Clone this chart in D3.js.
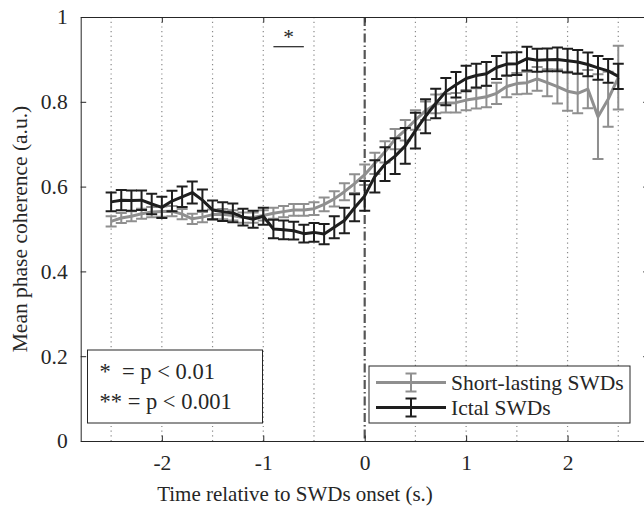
<!DOCTYPE html>
<html>

<head>
    <meta charset="utf-8">
    <title> Mean phase coherence </title>
    <script src="https://cdnjs.cloudflare.com/ajax/libs/d3/7.8.5/d3.min.js"></script>
    <style>
        html, body {
            margin: 0;
            padding: 0;
            background: white;
        }

        svg text {
            font-family: "Liberation Serif", "Times New Roman", serif;
            fill: #262626;
        }
    </style>
</head>

<body>
    <svg id="chart" width="644" height="511"></svg>

    <script>
        // time points (s.) relative to SWD onset
        var times = [-2.5, -2.4, -2.3, -2.2, -2.1, -2.0, -1.9, -1.8, -1.7, -1.6,
            -1.5, -1.4, -1.3, -1.2, -1.1, -1.0, -0.9, -0.8, -0.7, -0.6,
            -0.5, -0.4, -0.3, -0.2, -0.1, 0.0, 0.1, 0.2, 0.3, 0.4,
            0.5, 0.6, 0.7, 0.8, 0.9, 1.0, 1.1, 1.2, 1.3, 1.4,
            1.5, 1.6, 1.7, 1.8, 1.9, 2.0, 2.1, 2.2, 2.3, 2.4, 2.5];

        var shortMean = [0.518, 0.526, 0.530, 0.536, 0.540, 0.541, 0.542, 0.535, 0.524, 0.528,
            0.534, 0.535, 0.532, 0.527, 0.527, 0.532, 0.537, 0.541, 0.545, 0.545,
            0.548, 0.558, 0.571, 0.588, 0.607, 0.628, 0.655, 0.682, 0.712, 0.733,
            0.757, 0.779, 0.795, 0.797, 0.798, 0.804, 0.808, 0.812, 0.820, 0.836,
            0.843, 0.845, 0.854, 0.845, 0.836, 0.825, 0.820, 0.830, 0.765, 0.806, 0.857];

        var shortErr = [0.012, 0.012, 0.012, 0.012, 0.012, 0.012, 0.012, 0.012, 0.012, 0.012,
            0.012, 0.012, 0.012, 0.012, 0.012, 0.012, 0.013, 0.013, 0.014, 0.014,
            0.015, 0.016, 0.018, 0.020, 0.022, 0.024, 0.025, 0.025, 0.024, 0.024,
            0.023, 0.022, 0.022, 0.022, 0.023, 0.024, 0.024, 0.025, 0.025, 0.025,
            0.025, 0.026, 0.028, 0.032, 0.040, 0.046, 0.047, 0.045, 0.100, 0.065, 0.075];

        var ictalMean = [0.564, 0.568, 0.567, 0.568, 0.559, 0.551, 0.566, 0.576, 0.586, 0.568,
            0.545, 0.541, 0.538, 0.528, 0.523, 0.530, 0.500, 0.498, 0.496, 0.489,
            0.492, 0.488, 0.504, 0.520, 0.550, 0.578, 0.624, 0.653, 0.672, 0.696,
            0.732, 0.766, 0.796, 0.824, 0.840, 0.855, 0.862, 0.866, 0.881, 0.889,
            0.890, 0.902, 0.898, 0.899, 0.900, 0.897, 0.894, 0.888, 0.880, 0.873, 0.860];

        var ictalErr = [0.022, 0.024, 0.024, 0.023, 0.024, 0.025, 0.024, 0.024, 0.026, 0.025,
            0.022, 0.022, 0.022, 0.020, 0.020, 0.020, 0.022, 0.022, 0.021, 0.021,
            0.022, 0.024, 0.026, 0.030, 0.032, 0.035, 0.038, 0.040, 0.042, 0.042,
            0.042, 0.040, 0.035, 0.032, 0.030, 0.030, 0.028, 0.028, 0.027, 0.027,
            0.027, 0.028, 0.027, 0.027, 0.028, 0.028, 0.028, 0.028, 0.028, 0.028, 0.030];

        var xTicks = [-2, -1, 0, 1, 2];
        var xTickLabels = ["-2", "-1", "0", "1", "2"];
        var yTicks = [0, 0.2, 0.4, 0.6, 0.8, 1];
        var yTickLabels = ["0", "0.2", "0.4", "0.6", "0.8", "1"];
        var gridTimes = [-2.5, -2, -1.5, -1, -0.5, 0.5, 1, 1.5, 2, 2.5];

        var seriesNames = ["Short-lasting SWDs", "Ictal SWDs"];
        var statLabels = ["*  = p < 0.01", "** = p < 0.001"];
        var sigWindow = [-0.9, -0.6]; // the single "*" bar above the curves
        var sigLevel = 0.93;

        var grey = "#8f8f8f";
        var dark = "#1e1e1e";

        var svg = d3.select("#chart");

        // axes box runs a bit past the right edge of the picture
        var plotLeft = 80.7, plotRight = 648.7, plotTop = 17, plotBottom = 441;

        var x = d3.scaleLinear().domain([-2.8, 2.8]).range([plotLeft, plotRight]);
        var y = d3.scaleLinear().domain([0, 1]).range([plotBottom, plotTop]);

        /* dotted vertical grid */
        svg.append("g")
            .selectAll("line")
            .data(gridTimes)
            .join("line")
            .attr("x1", d => x(d)).attr("x2", d => x(d))
            .attr("y1", plotTop).attr("y2", plotBottom)
            .attr("stroke", "#8a8a8a")
            .attr("stroke-width", 1.2)
            .attr("stroke-dasharray", "1.2,3.5");

        // onset marker
        svg.append("line")
            .attr("x1", x(0)).attr("x2", x(0))
            .attr("y1", plotTop).attr("y2", plotBottom)
            .attr("stroke", "#555")
            .attr("stroke-width", 2.2)
            .attr("stroke-dasharray", "9,3,1.5,3");

        function drawSeries(means, errs, color, lw) {
            var pts = times.map((t, i) => ({ t: t, m: means[i], e: errs[i] }));
            var g = svg.append("g");
            var capW = 5.5;

            g.selectAll(".bar")
                .data(pts)
                .join("path")
                .attr("class", "bar")
                .attr("fill", "none")
                .attr("stroke", color)
                .attr("stroke-width", 2)
                .attr("d", d => {
                    var cx = x(d.t), y0 = y(d.m - d.e), y1 = y(d.m + d.e);
                    return "M" + cx + "," + y0 + "V" + y1 +
                        "M" + (cx - capW) + "," + y0 + "H" + (cx + capW) +
                        "M" + (cx - capW) + "," + y1 + "H" + (cx + capW);
                });

            g.append("path")
                .datum(pts)
                .attr("fill", "none")
                .attr("stroke", color)
                .attr("stroke-width", lw)
                .attr("stroke-linejoin", "round")
                .attr("d", d3.line().x(d => x(d.t)).y(d => y(d.m)));
        }

        drawSeries(shortMean, shortErr, grey, 3);
        drawSeries(ictalMean, ictalErr, dark, 3);

        /* axes, MATLAB style box with inward ticks */
        var axisColor = "#262626";
        var tickLen = 5.5;

        var xAxis = svg.append("g")
            .attr("transform", "translate(0," + plotBottom + ")")
            .call(d3.axisBottom(x).tickValues(xTicks).tickSizeInner(-tickLen).tickSizeOuter(0)
                .tickPadding(14).tickFormat((d, i) => xTickLabels[i]));

        var xAxisTop = svg.append("g")
            .attr("transform", "translate(0," + plotTop + ")")
            .call(d3.axisTop(x).tickValues(xTicks).tickSizeInner(-tickLen).tickSizeOuter(0)
                .tickFormat(""));

        var yAxis = svg.append("g")
            .attr("transform", "translate(" + plotLeft + ",0)")
            .call(d3.axisLeft(y).tickValues(yTicks).tickSizeInner(-tickLen).tickSizeOuter(0)
                .tickPadding(13).tickFormat((d, i) => yTickLabels[i]));

        var yAxisRight = svg.append("g")
            .attr("transform", "translate(" + plotRight + ",0)")
            .call(d3.axisRight(y).tickValues(yTicks).tickSizeInner(-tickLen).tickSizeOuter(0)
                .tickFormat(""));

        [xAxis, xAxisTop, yAxis, yAxisRight].forEach(function (a) {
            a.select(".domain").attr("stroke", axisColor).attr("stroke-width", 1);
            a.selectAll(".tick line").attr("stroke", axisColor).attr("stroke-width", 1);
            a.selectAll(".tick text")
                .attr("font-family", "Liberation Serif, serif")
                .attr("font-size", 21.5)
                .attr("fill", axisColor);
        });

        svg.append("text")
            .attr("x", 295)
            .attr("y", 501)
            .attr("text-anchor", "middle")
            .attr("font-size", 21)
            .text("Time relative to SWDs onset (s.)");

        svg.append("text")
            .attr("transform", "translate(27," + (plotTop + plotBottom) / 2 + ") rotate(-90)")
            .attr("text-anchor", "middle")
            .attr("font-size", 21.5)
            .text("Mean phase coherence (a.u.)");

        /* significance marker */
        svg.append("line")
            .attr("x1", x(sigWindow[0])).attr("x2", x(sigWindow[1]))
            .attr("y1", y(sigLevel)).attr("y2", y(sigLevel))
            .attr("stroke", "#333").attr("stroke-width", 1.3);

        svg.append("text")
            .attr("x", x((sigWindow[0] + sigWindow[1]) / 2))
            .attr("y", y(sigLevel) - 3)
            .attr("text-anchor", "middle")
            .attr("font-size", 21.5)
            .text("*");

        /* p-value box */
        var pBox = svg.append("g").attr("transform", "translate(87.5,350)");
        pBox.append("rect")
            .attr("width", 175).attr("height", 73)
            .attr("fill", "white")
            .attr("stroke", axisColor).attr("stroke-width", 1);
        pBox.selectAll("text")
            .data(statLabels)
            .join("text")
            .attr("x", 12)
            .attr("y", (d, i) => 29 + i * 30)
            .attr("font-size", 22.5)
            .attr("xml:space", "preserve")
            .text(d => d);

        /* legend */
        var legend = svg.append("g").attr("transform", "translate(369,366)");
        legend.append("rect")
            .attr("width", 261).attr("height", 57)
            .attr("fill", "white")
            .attr("stroke", axisColor).attr("stroke-width", 1);

        var legendRows = legend.selectAll(".row")
            .data(seriesNames)
            .join("g")
            .attr("class", "row")
            .attr("transform", (d, i) => "translate(0," + (16.5 + i * 25) + ")");

        legendRows.append("line")
            .attr("x1", 7).attr("x2", 77)
            .attr("stroke", (d, i) => i === 0 ? grey : dark)
            .attr("stroke-width", 3);

        legendRows.append("path")
            .attr("fill", "none")
            .attr("stroke", (d, i) => i === 0 ? grey : dark)
            .attr("stroke-width", 2)
            .attr("d", "M42,-9V9M36.5,-9H47.5M36.5,9H47.5");

        legendRows.append("text")
            .attr("x", 82)
            .attr("y", 7.5)
            .attr("font-size", 21.5)
            .text(d => d);
    </script>

</body>

</html>
